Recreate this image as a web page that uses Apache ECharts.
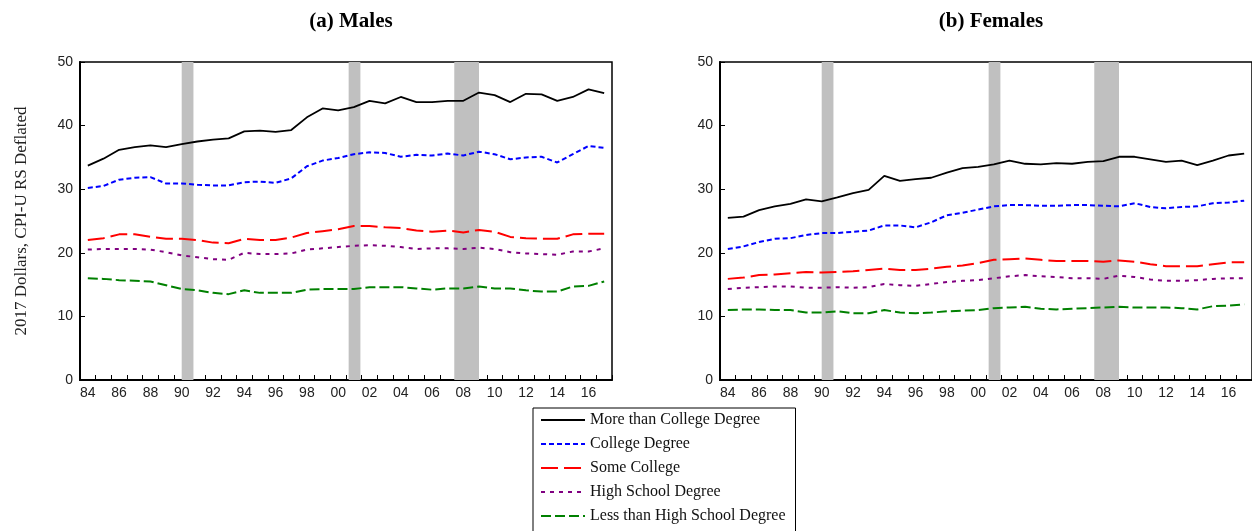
<!DOCTYPE html>
<html>
<head>
<meta charset="utf-8">
<script src="https://cdn.jsdelivr.net/npm/echarts@6/dist/echarts.min.js"></script>
<style>
  html, body { margin: 0; padding: 0; background: #fff; }
  #chart { width: 1252px; height: 531px; }
</style>
</head>
<body>
<div id="chart"></div>
<script>
  // 年份 (1984-2017), 两位数标签
  const years = ['84','85','86','87','88','89','90','91','92','93','94','95','96','97','98','99','00',
    '01','02','03','04','05','06','07','08','09','10','11','12','13','14','15','16','17']

  const seriesNames = ['More than College Degree', 'College Degree', 'Some College', 'High School Degree', 'Less than High School Degree']

  // (a) Males
  const maleMore = [33.7,34.8,36.2,36.6,36.9,36.6,37.1,37.5,37.8,38.0,39.1,39.2,39.0,39.3,41.3,42.7,42.4,
    42.9,43.9,43.5,44.5,43.7,43.7,43.9,43.9,45.2,44.8,43.7,45.0,44.9,43.9,44.5,45.7,45.1]
  const maleCollege = [30.2,30.5,31.5,31.8,31.9,30.9,30.9,30.7,30.6,30.6,31.1,31.2,31.0,31.7,33.6,34.5,34.9,
    35.5,35.8,35.7,35.1,35.4,35.3,35.6,35.3,35.9,35.5,34.7,35.0,35.1,34.2,35.5,36.8,36.5]
  const maleSome = [22.0,22.3,22.9,22.9,22.5,22.2,22.2,22.0,21.6,21.5,22.2,22.0,22.0,22.4,23.1,23.4,23.7,
    24.2,24.2,24.0,23.9,23.5,23.3,23.5,23.2,23.6,23.3,22.5,22.3,22.2,22.2,22.9,23.0,23.0]
  const maleHS = [20.5,20.6,20.6,20.6,20.5,20.1,19.6,19.3,19.0,18.9,20.0,19.8,19.8,19.9,20.5,20.7,20.9,
    21.1,21.2,21.1,20.9,20.6,20.7,20.7,20.6,20.8,20.6,20.1,19.9,19.8,19.7,20.2,20.2,20.7]
  const maleLess = [16.0,15.9,15.7,15.6,15.5,14.9,14.3,14.1,13.7,13.5,14.1,13.7,13.7,13.7,14.2,14.3,14.3,
    14.3,14.6,14.6,14.6,14.4,14.2,14.4,14.4,14.7,14.4,14.4,14.1,13.9,13.9,14.7,14.8,15.5]

  // (b) Females
  const femaleMore = [25.5,25.7,26.7,27.3,27.7,28.4,28.1,28.7,29.4,29.9,32.1,31.3,31.6,31.8,32.6,33.3,33.5,
    33.9,34.5,34.0,33.9,34.1,34.0,34.3,34.4,35.1,35.1,34.7,34.3,34.5,33.8,34.5,35.3,35.6]
  const femaleCollege = [20.6,21.0,21.7,22.2,22.3,22.8,23.1,23.1,23.3,23.5,24.3,24.3,24.0,24.8,25.9,26.3,26.8,
    27.3,27.5,27.5,27.4,27.4,27.5,27.5,27.4,27.3,27.8,27.2,27.0,27.2,27.3,27.8,27.9,28.2]
  const femaleSome = [15.9,16.1,16.5,16.6,16.8,17.0,16.9,17.0,17.1,17.3,17.5,17.3,17.3,17.5,17.8,18.0,18.4,
    18.9,19.0,19.1,18.9,18.7,18.7,18.7,18.6,18.8,18.6,18.2,17.9,17.9,17.9,18.2,18.5,18.5]
  const femaleHS = [14.3,14.5,14.6,14.7,14.7,14.5,14.5,14.6,14.5,14.6,15.1,14.9,14.8,15.1,15.4,15.6,15.7,
    16.0,16.3,16.5,16.3,16.2,16.0,16.0,15.9,16.4,16.2,15.8,15.6,15.6,15.7,15.9,16.0,16.0]
  const femaleLess = [11.0,11.1,11.1,11.0,11.0,10.6,10.6,10.8,10.5,10.5,11.0,10.6,10.5,10.6,10.8,10.9,11.0,
    11.3,11.4,11.5,11.2,11.1,11.2,11.3,11.4,11.5,11.4,11.4,11.4,11.3,11.1,11.6,11.7,11.9]

  // 衰退期 (小数年份)
  const recessions = [[1990.5, 1991.25], [2001.17, 2001.92], [2007.92, 2009.5]]

  const yMin = 0, yMax = 50, yStep = 10

  const lineColors = ['#000000', '#0000ff', '#ff0000', '#800080', '#008000']
  const lineDashes = ['solid', [5, 3], [17, 6], [4, 5], [10, 4]]
  const lineWidths = [1.8, 2, 2, 2, 2]

  const serif = 'Liberation Serif, Times New Roman, serif'
  const tickFont = { color: '#222', fontSize: 14, fontFamily: 'Liberation Sans, Arial, sans-serif' }

  function xCat (gi) {
    return {
      type: 'category', gridIndex: gi, data: years, boundaryGap: true,
      axisLine: { lineStyle: { color: '#000', width: 2 } },
      axisTick: { show: true, inside: true, length: 5, interval: 0, lineStyle: { color: '#000', width: 1 } },
      axisLabel: Object.assign({ interval: 1, margin: 6 }, tickFont),
      splitLine: { show: false }
    }
  }
  function xTime (gi) {
    return { type: 'value', gridIndex: gi, min: 1984, max: 2018, show: false, position: 'top' }
  }
  function yAx (gi, withName) {
    let ax = {
      type: 'value', gridIndex: gi, min: yMin, max: yMax, interval: yStep,
      axisLine: { show: true, lineStyle: { color: '#000', width: 2 } },
      axisTick: { show: true, inside: true, length: 5, lineStyle: { color: '#000' } },
      axisLabel: Object.assign({ margin: 7 }, tickFont),
      splitLine: { show: false }
    }
    if (withName) {
      ax.name = '2017 Dollars, CPI-U RS Deflated'
      ax.nameLocation = 'middle'
      ax.nameGap = 50
      ax.nameTextStyle = { color: '#222', fontSize: 17, fontFamily: serif }
    }
    return ax
  }

  function bands (gi) {
    return {
      type: 'line', xAxisIndex: gi * 2 + 1, yAxisIndex: gi, data: [], silent: true, z: 1,
      markArea: {
        silent: true,
        itemStyle: { color: '#c0c0c0' },
        data: recessions.map(r => [{ xAxis: r[0] }, { xAxis: r[1] }])
      }
    }
  }

  function lines (gi, arrays) {
    return arrays.map((d, k) => ({
      name: seriesNames[k], type: 'line', xAxisIndex: gi * 2, yAxisIndex: gi,
      data: d, symbol: 'none', z: 3 + (4 - k),
      lineStyle: { color: lineColors[k], width: lineWidths[k], type: lineDashes[k] },
      itemStyle: { color: lineColors[k] }
    }))
  }

  let option = {
    animation: false,
    backgroundColor: '#fff',
    title: [
      { text: '(a) Males', left: 346, top: 6, textAlign: 'center',
        textStyle: { fontSize: 21, fontWeight: 'bold', color: '#000', fontFamily: serif } },
      { text: '(b) Females', left: 986, top: 6, textAlign: 'center',
        textStyle: { fontSize: 21, fontWeight: 'bold', color: '#000', fontFamily: serif } }
    ],
    grid: [
      { left: 80, top: 62, width: 532, height: 318, show: true, borderColor: '#000', borderWidth: 1.5, backgroundColor: 'transparent' },
      { left: 720, top: 62, width: 532, height: 318, show: true, borderColor: '#000', borderWidth: 1.5, backgroundColor: 'transparent' }
    ],
    xAxis: [xCat(0), xTime(0), xCat(1), xTime(1)],
    yAxis: [yAx(0, true), yAx(1, false)],
    legend: {
      orient: 'vertical', left: 533, top: 408, height: 200,
      data: seriesNames,
      itemWidth: 44, itemHeight: 14, itemGap: 8,
      padding: [4, 10, 14, 7],
      borderColor: '#000', borderWidth: 1,
      itemStyle: { opacity: 0 },
      textStyle: { color: '#111', fontSize: 16, fontFamily: serif }
    },
    series: [bands(0), bands(1)]
      .concat(lines(0, [maleMore, maleCollege, maleSome, maleHS, maleLess]))
      .concat(lines(1, [femaleMore, femaleCollege, femaleSome, femaleHS, femaleLess]))
  }

  let myChart = echarts.init(document.getElementById('chart'))
  myChart.setOption(option)
</script>
</body>
</html>
